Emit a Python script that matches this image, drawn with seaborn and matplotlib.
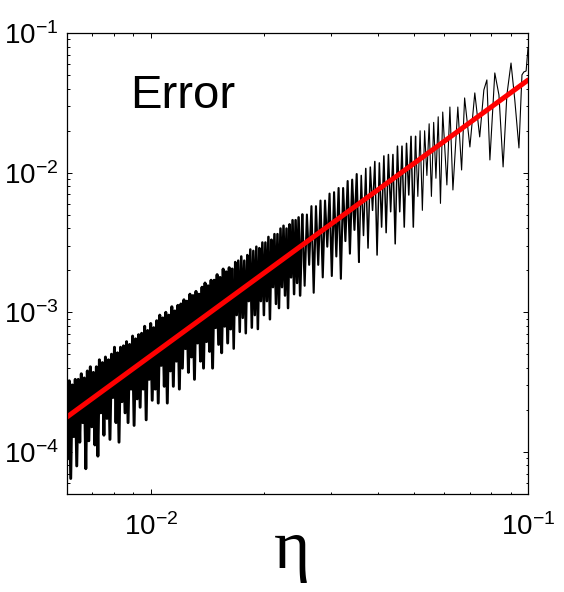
import numpy as np
import pandas as pd
import matplotlib
matplotlib.use("Agg")
import matplotlib.pyplot as plt
import seaborn as sns

# log10 of eta and of the error
log_eta = [
    # dense part
    -2.224, -2.220, -2.216, -2.212, -2.208, -2.204, -2.200, -2.196, -2.192, -2.188,
    -2.184, -2.180, -2.176, -2.172, -2.168, -2.164, -2.160, -2.156, -2.152, -2.148,
    -2.144, -2.140, -2.136, -2.132, -2.128, -2.124, -2.120, -2.116, -2.112, -2.108,
    -2.104, -2.100, -2.096, -2.092, -2.088, -2.084, -2.080, -2.076, -2.072, -2.068,
    -2.064, -2.060, -2.056, -2.052, -2.048, -2.044, -2.040, -2.036, -2.032, -2.028,
    -2.024, -2.020, -2.016, -2.012, -2.008, -2.004, -2.000, -1.996, -1.992, -1.988,
    -1.984, -1.980, -1.976, -1.972, -1.968, -1.964, -1.960, -1.956, -1.952, -1.948,
    -1.944, -1.940, -1.936, -1.932, -1.928, -1.924, -1.920, -1.916, -1.912, -1.908,
    -1.904, -1.900, -1.896, -1.892, -1.888, -1.884, -1.880, -1.876, -1.872, -1.868,
    -1.864, -1.860, -1.856, -1.852, -1.848, -1.844, -1.840, -1.836, -1.832, -1.828,
    -1.824, -1.820, -1.816, -1.812, -1.808, -1.804, -1.800, -1.796, -1.792, -1.788,
    -1.784, -1.780, -1.776, -1.772, -1.768, -1.764, -1.760, -1.756, -1.752, -1.748,
    -1.744, -1.740, -1.736, -1.732, -1.728, -1.724, -1.720, -1.716, -1.712, -1.708,
    -1.704, -1.700, -1.696, -1.692, -1.688, -1.684, -1.680, -1.676, -1.672, -1.668,
    -1.664, -1.660, -1.656, -1.652, -1.648, -1.644, -1.640, -1.636, -1.632, -1.628,
    -1.624, -1.620, -1.616, -1.612, -1.608, -1.604,
    # middle part
    -1.598, -1.592, -1.586, -1.580, -1.574, -1.568, -1.562, -1.556, -1.550, -1.544,
    -1.538, -1.532, -1.526, -1.520, -1.514, -1.508, -1.502, -1.496, -1.490, -1.484,
    -1.478, -1.472, -1.466, -1.460, -1.454, -1.448, -1.442, -1.436, -1.430, -1.424,
    -1.418, -1.412, -1.406, -1.400, -1.394, -1.388, -1.382, -1.376, -1.370, -1.364,
    -1.358, -1.352, -1.346, -1.340, -1.334, -1.328, -1.322, -1.316, -1.310, -1.304,
    -1.298, -1.292, -1.286, -1.280, -1.274, -1.268, -1.262, -1.256, -1.250, -1.244,
    -1.238, -1.232,
    # right end
    -1.226, -1.215, -1.207, -1.199, -1.186, -1.176, -1.168, -1.154, -1.141, -1.128,
    -1.117, -1.109, -1.101, -1.088, -1.077, -1.066, -1.056, -1.045, -1.035, -1.024,
    -1.016, -1.011, -1.005, -1.000,
]
log_err = [
    -3.53, -4.05, -3.49, -4.19, -3.52, -3.89, -3.48, -4.10, -3.48, -3.93,
    -3.44, -3.79, -3.47, -4.12, -3.42, -3.92, -3.39, -3.82, -3.43, -3.95,
    -3.39, -4.03, -3.34, -3.72, -3.36, -3.88, -3.32, -3.76, -3.34, -3.91,
    -3.30, -3.61, -3.25, -3.79, -3.29, -3.93, -3.25, -3.64, -3.24, -3.72,
    -3.21, -3.79, -3.23, -3.55, -3.17, -3.81, -3.19, -3.62, -3.16, -3.68,
    -3.15, -3.55, -3.10, -3.77, -3.13, -3.48, -3.08, -3.63, -3.11, -3.55,
    -3.06, -3.65, -3.02, -3.38, -3.04, -3.53, -3.00, -3.65, -3.02, -3.42,
    -2.96, -3.53, -2.99, -3.35, -2.95, -3.55, -2.94, -3.40, -2.91, -3.26,
    -2.92, -3.43, -2.87, -3.32, -2.88, -3.48, -2.85, -3.22, -2.87, -3.35,
    -2.82, -3.40, -2.79, -3.21, -2.81, -3.28, -2.77, -3.40, -2.77, -3.11,
    -2.73, -3.23, -2.75, -3.29, -2.69, -3.10, -2.71, -3.22, -2.68, -3.12,
    -2.69, -3.26, -2.64, -3.02, -2.63, -3.14, -2.60, -3.04, -2.63, -3.15,
    -2.59, -2.92, -2.55, -3.11, -2.56, -3.02, -2.53, -3.12, -2.54, -2.92,
    -2.50, -3.02, -2.50, -2.92, -2.46, -3.05, -2.48, -2.82, -2.44, -2.94,
    -2.44, -2.97, -2.40, -2.82, -2.38, -2.88, -2.40, -2.97, -2.37, -2.75,
    -2.34, -2.87, -2.34, -2.79, -2.32, -2.88,
    -2.30, -2.81, -2.30, -2.66, -2.24, -2.86, -2.24, -2.66, -2.20, -2.75,
    -2.20, -2.53, -2.15, -2.74, -2.14, -2.60, -2.11, -2.76, -2.11, -2.49,
    -2.06, -2.58, -2.05, -2.41, -2.01, -2.64, -2.02, -2.45, -1.97, -2.54,
    -1.96, -2.27, -1.92, -2.59, -1.93, -2.39, -1.88, -2.43, -1.87, -2.28,
    -1.87, -2.51, -1.81, -2.28, -1.81, -2.39, -1.79, -2.16, -1.74, -2.39,
    -1.74, -2.17, -1.70, -2.27, -1.70, -2.02, -1.65, -2.17, -1.64, -2.04,
    -1.60, -2.22,
    -1.566, -2.088, -1.530, -2.124, -1.530, -1.981, -1.465, -1.816, -1.429, -1.744,
    -1.408, -1.336, -1.909, -1.286, -1.444, -1.959, -1.444, -1.215, -1.480, -1.823,
    -1.300, -1.279, -1.272, -1.107,
]

# red power-law fit, end points
fit_eta = [0.006, 0.1]
fit_err = [1.78e-4, 4.6e-2]

err_df = pd.DataFrame({"eta": 10.0 ** np.array(log_eta), "err": 10.0 ** np.array(log_err)})
fit_df = pd.DataFrame({"eta": fit_eta, "err": fit_err})

sns.set_theme(style="ticks")
plt.rcParams["font.family"] = ["Liberation Sans", "DejaVu Sans"]
plt.rcParams["mathtext.fontset"] = "custom"
plt.rcParams["mathtext.rm"] = "Liberation Sans"
plt.rcParams["mathtext.it"] = "Liberation Sans:italic"
for key in ["text.color", "axes.labelcolor", "xtick.color", "ytick.color", "axes.edgecolor"]:
    plt.rcParams[key] = "black"

fig = plt.figure(figsize=(5.64, 5.92), dpi=100)
ax = fig.add_axes([67 / 564, 1 - 494 / 592, 461 / 564, 461 / 592])

# the left part oscillates far faster than the pixels can show:
# draw it heavier, thinning out towards the right
parts = [(0, 111, 2.1), (110, 157, 1.8), (156, 182, 1.5), (181, 207, 1.1), (206, None, 0.8)]
for start, stop, lw in parts:
    sns.lineplot(data=err_df.iloc[start:stop], x="eta", y="err", ax=ax,
                 color="black", linewidth=lw, estimator=None, sort=False)
sns.lineplot(data=fit_df, x="eta", y="err", ax=ax, color="#ff0000",
             linewidth=3.6, estimator=None, sort=False)

ax.set_xscale("log")
ax.set_yscale("log")
ax.set_xlim(0.006, 0.1)
ax.set_ylim(5e-5, 0.1)

ax.set_xticks([0.01, 0.1])
ax.set_xticklabels([r"$10^{-2}$", r"$10^{-1}$"])
ax.set_yticks([1e-4, 1e-3, 1e-2, 1e-1])
ax.set_yticklabels([r"$10^{-4}$", r"$10^{-3}$", r"$10^{-2}$", r"$10^{-1}$"])

ax.tick_params(which="both", direction="in", top=True, right=True,
               colors="black", labelsize=20, width=0.7)
ax.tick_params(which="major", length=3.5)
ax.tick_params(axis="y", which="major", pad=6)
ax.tick_params(axis="x", which="major", pad=14)
ax.tick_params(which="minor", length=1.8)
for s in ax.spines.values():
    s.set_linewidth(0.9)
    s.set_color("black")

ax.set_xlabel("η", fontsize=50, family=["Liberation Serif", "DejaVu Serif"])
ax.xaxis.set_label_coords((292 - 67) / 461, -0.056)
ax.xaxis.label.set_va("top")
ax.set_ylabel("")
ax.text(0.137, 0.837, "Error", transform=ax.transAxes, fontsize=34,
        va="baseline", ha="left", color="black")

fig.savefig("out.png", dpi=100)
